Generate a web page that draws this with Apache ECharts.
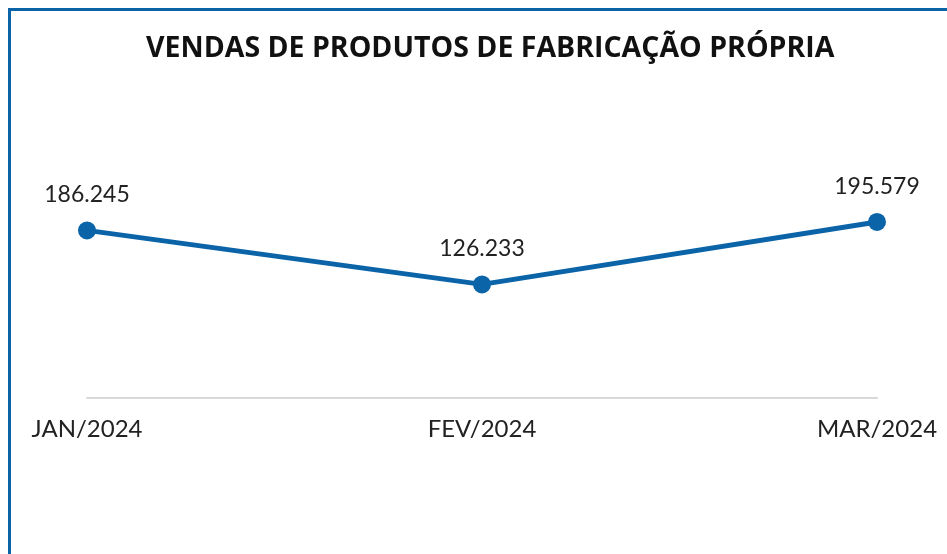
<!DOCTYPE html>
<html><head><meta charset="utf-8">
<script src="https://cdn.jsdelivr.net/npm/echarts@6/dist/echarts.min.js"></script>
<style>html,body{margin:0;padding:0;background:#fff}#c{width:947px;height:554px}</style>
</head><body><div id="c"></div>
<script>
const categories = ['JAN/2024', 'FEV/2024', 'MAR/2024'];
const values = [186245, 126233, 195579];
const title = 'VENDAS DE PRODUTOS DE FABRICAÇÃO PRÓPRIA';
const fmt = v => v.toLocaleString('de-DE');
const chart = echarts.init(document.getElementById('c'));
chart.setOption({
  animation: false,
  backgroundColor: '#fff',
  graphic: [{type:'rect', shape:{x:9.5,y:9.5,width:2000,height:2000}, style:{fill:'none', stroke:'#0B64A8', lineWidth:3}, silent:true}],
  title: {text: title, left: 141, top: 29, textStyle:{fontFamily:'Open Sans', fontWeight:'bold', fontSize:28.5, color:'#111'}},
  grid: {left: 87, right: 70, top: 218, bottom: 156},
  xAxis: {type:'category', data: categories, boundaryGap:false,
    axisLine:{lineStyle:{color:'#d9d9d9', width:2}}, axisTick:{show:false},
    axisLabel:{margin:19, fontFamily:'Lato', fontSize:24, color:'#222'}},
  yAxis: {type:'value', min:0, max:200000, show:false, splitLine:{show:false}},
  series: [{type:'line', data: values, symbol:'circle', symbolSize:18,
    lineStyle:{color:'#0B64A8', width:5}, itemStyle:{color:'#0B64A8'},
    label:{show:true, position:'top', distance:15, formatter: p => fmt(p.value), fontFamily:'Lato', fontSize:23, color:'#222'}}]
});
</script></body></html>
